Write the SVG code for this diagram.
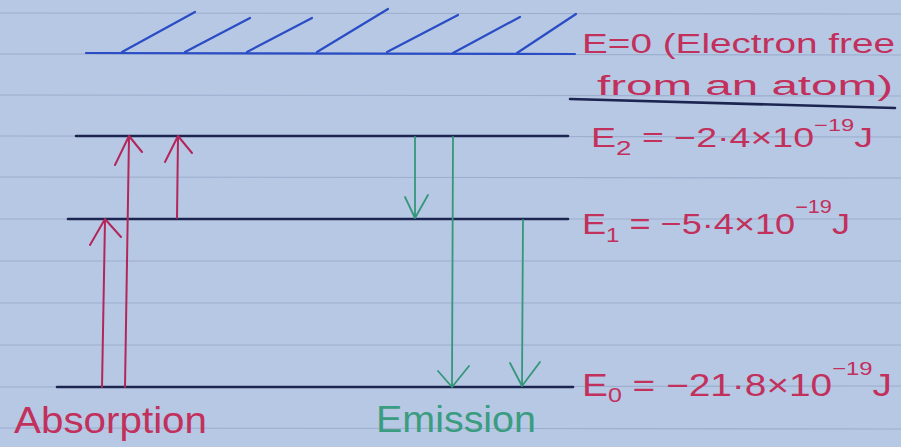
<svg xmlns="http://www.w3.org/2000/svg" width="901" height="447" viewBox="0 0 901 447">
<defs>
<style>
.paper{fill:#b7c8e4}
.rule{stroke:#9badcd;stroke-width:1.1}
.lvl{stroke:#1c2450;stroke-width:2.6;fill:none;stroke-linecap:round}
.blue{stroke:#2a4cc4;stroke-width:2.2;fill:none;stroke-linecap:round}
.abs{stroke:#b3265a;stroke-width:2;fill:none;stroke-linecap:round;stroke-linejoin:round}
.emi{stroke:#34977a;stroke-width:1.8;fill:none;stroke-linecap:round;stroke-linejoin:round}
.t{font-family:"Liberation Sans","DejaVu Sans",sans-serif;fill:#c2305c}
.g{font-family:"Liberation Sans","DejaVu Sans",sans-serif;fill:#3a9c80}
</style>
</defs>
<rect class="paper" x="0" y="0" width="901" height="447"/>
<g id="ruled-paper">
<line class="rule" x1="0" y1="13" x2="901" y2="14"/>
<line class="rule" x1="0" y1="54" x2="901" y2="55"/>
<line class="rule" x1="0" y1="95" x2="901" y2="96"/>
<line class="rule" x1="0" y1="136" x2="901" y2="137"/>
<line class="rule" x1="0" y1="177" x2="901" y2="178"/>
<line class="rule" x1="0" y1="219" x2="901" y2="219"/>
<line class="rule" x1="0" y1="261" x2="901" y2="261"/>
<line class="rule" x1="0" y1="303" x2="901" y2="303"/>
<line class="rule" x1="0" y1="345" x2="901" y2="345"/>
<line class="rule" x1="0" y1="387" x2="901" y2="386"/>
<line class="rule" x1="0" y1="428" x2="901" y2="429"/>
</g>
<g id="level-free">
<line class="blue" x1="86" y1="53" x2="575" y2="54"/>
<path class="blue" d="M122 52 L195 12 M185 52 L250 18 M247 52 L312 18 M317 52 L388 9 M387 52 L458 15 M453 53 L520 17 M517 53 L576 14"/>
<text class="t" x="582" y="53" font-size="27" textLength="313" lengthAdjust="spacingAndGlyphs">E=0 (Electron free</text>
<text class="t" x="597" y="95" font-size="27" textLength="296" lengthAdjust="spacingAndGlyphs">from an atom)</text>
<line class="lvl" x1="570" y1="99" x2="895" y2="108"/>
</g>
<g id="level-E2">
<line class="lvl" x1="76" y1="136" x2="568" y2="136"/>
<text class="t" x="591" y="147" font-size="27" textLength="282" lengthAdjust="spacingAndGlyphs">E<tspan font-size="20" dy="8">2</tspan><tspan dy="-8"> = −2·4×10</tspan><tspan font-size="17" dy="-16">−19</tspan><tspan dy="16">J</tspan></text>
</g>
<g id="level-E1">
<line class="lvl" x1="68" y1="219" x2="568" y2="219"/>
<text class="t" x="582" y="234" font-size="30" textLength="268" lengthAdjust="spacingAndGlyphs">E<tspan font-size="20" dy="8">1</tspan><tspan dy="-8"> = −5·4×10</tspan><tspan font-size="18" dy="-21">−19</tspan><tspan dy="21">J</tspan></text>
</g>
<g id="level-E0">
<line class="lvl" x1="57" y1="387" x2="573" y2="387"/>
<text class="t" x="582" y="396" font-size="31" textLength="310" lengthAdjust="spacingAndGlyphs">E<tspan font-size="20" dy="6">0</tspan><tspan dy="-6"> = −21·8×10</tspan><tspan font-size="19" dy="-21">−19</tspan><tspan dy="21">J</tspan></text>
</g>
<g id="label-absorption">
<text class="t" x="14" y="433" font-size="37" textLength="193" lengthAdjust="spacingAndGlyphs">Absorption</text>
</g>
<g id="label-emission">
<text class="g" x="376" y="432" font-size="36" textLength="160" lengthAdjust="spacingAndGlyphs">Emission</text>
</g>
<g id="connectors">
<path class="abs" d="M102 387 L105 220 M90 245 L105 219 L121 237"/>
<path class="abs" d="M125 387 L129 137 M115 165 L129 136 L142 152"/>
<path class="abs" d="M177 218 L178 137 M165 162 L178 136 L192 153"/>
<path class="emi" d="M415 137 L415 217 M405 197 L415 218 L428 195"/>
<path class="emi" d="M453 137 L452 386 M438 371 L452 387 L469 366"/>
<path class="emi" d="M523 220 L522 385 M510 363 L522 386 L540 362"/>
</g>
</svg>
